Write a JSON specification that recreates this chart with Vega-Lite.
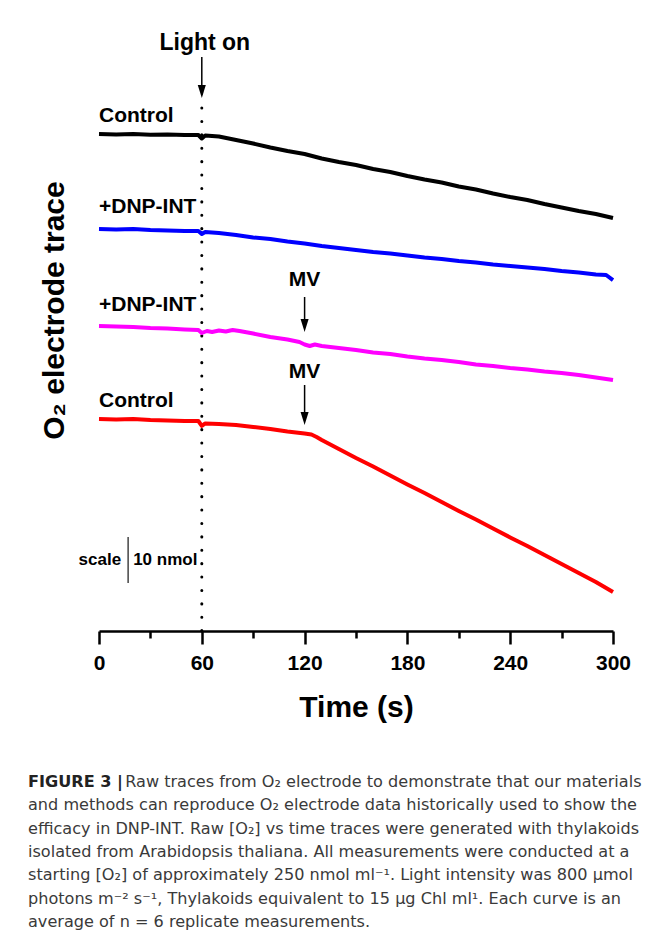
{
  "$schema": "https://vega.github.io/schema/vega-lite/v6.json",
  "width": 514,
  "height": 598,
  "autosize": {"type": "none"},
  "padding": {"left": 99, "top": 33, "right": 55, "bottom": 320},
  "background": "white",
  "config": {"view": {"stroke": null}, "font": "Liberation Sans"},
  "title": {
    "text": "FIGURE 3 |",
    "subtitle": [
      "\u200b\u00a0\u00a0\u00a0\u00a0\u00a0\u00a0\u00a0\u00a0\u00a0\u00a0\u00a0\u00a0\u00a0\u00a0\u00a0\u00a0\u00a0\u00a0\u00a0Raw traces from O\u2082 electrode to demonstrate that our materials",
      "and methods can reproduce O\u2082 electrode data historically used to show the",
      "efficacy in DNP-INT. Raw [O\u2082] vs time traces were generated with thylakoids",
      "isolated from Arabidopsis thaliana. All measurements were conducted at a",
      "starting [O\u2082] of approximately 250 nmol ml\u207b\u00b9. Light intensity was 800 \u00b5mol",
      "photons m\u207b\u00b2 s\u207b\u00b9, Thylakoids equivalent to 15 \u00b5g Chl ml\u00b9. Each curve is an",
      "average of n = 6 replicate measurements."
    ],
    "orient": "bottom",
    "anchor": "start",
    "frame": "group",
    "dx": -71,
    "offset": 52,
    "font": "DejaVu Sans",
    "fontSize": 16.1,
    "fontWeight": "bold",
    "color": "#222222",
    "subtitleFont": "DejaVu Sans",
    "subtitleFontSize": 16.1,
    "subtitleFontWeight": "normal",
    "subtitleColor": "#3a3a3a",
    "subtitleLineHeight": 23.3,
    "subtitlePadding": -16.1
  },
  "datasets": {
    "traces": [
      {"series": "Control", "t": 0, "o2": 108.04}, {"series": "Control", "t": 10, "o2": 107.93}, {"series": "Control", "t": 20, "o2": 108.04}, {"series": "Control", "t": 30, "o2": 107.87}, {"series": "Control", "t": 40, "o2": 107.93}, {"series": "Control", "t": 50, "o2": 107.83}, {"series": "Control", "t": 58, "o2": 107.83}, {"series": "Control", "t": 60, "o2": 107.07}, {"series": "Control", "t": 62, "o2": 107.72}, {"series": "Control", "t": 70, "o2": 107.5}, {"series": "Control", "t": 80, "o2": 106.74}, {"series": "Control", "t": 90, "o2": 105.98}, {"series": "Control", "t": 100, "o2": 105.11}, {"series": "Control", "t": 110, "o2": 104.35}, {"series": "Control", "t": 120, "o2": 103.7}, {"series": "Control", "t": 130, "o2": 102.72}, {"series": "Control", "t": 140, "o2": 101.96}, {"series": "Control", "t": 150, "o2": 101.3}, {"series": "Control", "t": 160, "o2": 100.43}, {"series": "Control", "t": 170, "o2": 99.78}, {"series": "Control", "t": 180, "o2": 98.91}, {"series": "Control", "t": 190, "o2": 98.15}, {"series": "Control", "t": 200, "o2": 97.5}, {"series": "Control", "t": 210, "o2": 96.63}, {"series": "Control", "t": 220, "o2": 95.98}, {"series": "Control", "t": 230, "o2": 95.11}, {"series": "Control", "t": 240, "o2": 94.35}, {"series": "Control", "t": 250, "o2": 93.7}, {"series": "Control", "t": 260, "o2": 92.83}, {"series": "Control", "t": 270, "o2": 92.07}, {"series": "Control", "t": 280, "o2": 91.3}, {"series": "Control", "t": 290, "o2": 90.65}, {"series": "Control", "t": 300, "o2": 89.78},
      {"series": "+DNP-INT", "t": 0, "o2": 87.39}, {"series": "+DNP-INT", "t": 10, "o2": 87.28}, {"series": "+DNP-INT", "t": 20, "o2": 87.39}, {"series": "+DNP-INT", "t": 30, "o2": 87.17}, {"series": "+DNP-INT", "t": 40, "o2": 87.07}, {"series": "+DNP-INT", "t": 50, "o2": 86.96}, {"series": "+DNP-INT", "t": 58, "o2": 86.96}, {"series": "+DNP-INT", "t": 60, "o2": 86.3}, {"series": "+DNP-INT", "t": 62, "o2": 86.74}, {"series": "+DNP-INT", "t": 70, "o2": 86.52}, {"series": "+DNP-INT", "t": 80, "o2": 86.09}, {"series": "+DNP-INT", "t": 90, "o2": 85.54}, {"series": "+DNP-INT", "t": 100, "o2": 85.22}, {"series": "+DNP-INT", "t": 110, "o2": 84.67}, {"series": "+DNP-INT", "t": 120, "o2": 84.24}, {"series": "+DNP-INT", "t": 130, "o2": 83.7}, {"series": "+DNP-INT", "t": 140, "o2": 83.26}, {"series": "+DNP-INT", "t": 150, "o2": 82.83}, {"series": "+DNP-INT", "t": 160, "o2": 82.39}, {"series": "+DNP-INT", "t": 170, "o2": 82.07}, {"series": "+DNP-INT", "t": 180, "o2": 81.63}, {"series": "+DNP-INT", "t": 190, "o2": 81.2}, {"series": "+DNP-INT", "t": 200, "o2": 80.87}, {"series": "+DNP-INT", "t": 210, "o2": 80.43}, {"series": "+DNP-INT", "t": 220, "o2": 80.11}, {"series": "+DNP-INT", "t": 230, "o2": 79.67}, {"series": "+DNP-INT", "t": 240, "o2": 79.35}, {"series": "+DNP-INT", "t": 250, "o2": 79.02}, {"series": "+DNP-INT", "t": 260, "o2": 78.7}, {"series": "+DNP-INT", "t": 270, "o2": 78.26}, {"series": "+DNP-INT", "t": 280, "o2": 77.93}, {"series": "+DNP-INT", "t": 290, "o2": 77.5}, {"series": "+DNP-INT", "t": 296, "o2": 77.39}, {"series": "+DNP-INT", "t": 300, "o2": 76.3},
      {"series": "+DNP-INT +MV", "t": 0, "o2": 66.3}, {"series": "+DNP-INT +MV", "t": 10, "o2": 66.2}, {"series": "+DNP-INT +MV", "t": 20, "o2": 66.09}, {"series": "+DNP-INT +MV", "t": 30, "o2": 65.87}, {"series": "+DNP-INT +MV", "t": 40, "o2": 65.76}, {"series": "+DNP-INT +MV", "t": 50, "o2": 65.54}, {"series": "+DNP-INT +MV", "t": 58, "o2": 65.43}, {"series": "+DNP-INT +MV", "t": 60, "o2": 64.78}, {"series": "+DNP-INT +MV", "t": 63, "o2": 65.22}, {"series": "+DNP-INT +MV", "t": 66, "o2": 65.0}, {"series": "+DNP-INT +MV", "t": 70, "o2": 65.33}, {"series": "+DNP-INT +MV", "t": 74, "o2": 65.11}, {"series": "+DNP-INT +MV", "t": 78, "o2": 65.43}, {"series": "+DNP-INT +MV", "t": 82, "o2": 65.22}, {"series": "+DNP-INT +MV", "t": 90, "o2": 64.67}, {"series": "+DNP-INT +MV", "t": 100, "o2": 63.91}, {"series": "+DNP-INT +MV", "t": 110, "o2": 63.37}, {"series": "+DNP-INT +MV", "t": 117, "o2": 62.83}, {"series": "+DNP-INT +MV", "t": 120, "o2": 62.28}, {"series": "+DNP-INT +MV", "t": 123, "o2": 61.96}, {"series": "+DNP-INT +MV", "t": 126, "o2": 62.28}, {"series": "+DNP-INT +MV", "t": 130, "o2": 61.96}, {"series": "+DNP-INT +MV", "t": 140, "o2": 61.52}, {"series": "+DNP-INT +MV", "t": 150, "o2": 61.09}, {"series": "+DNP-INT +MV", "t": 160, "o2": 60.54}, {"series": "+DNP-INT +MV", "t": 170, "o2": 60.22}, {"series": "+DNP-INT +MV", "t": 180, "o2": 59.67}, {"series": "+DNP-INT +MV", "t": 190, "o2": 59.24}, {"series": "+DNP-INT +MV", "t": 200, "o2": 58.91}, {"series": "+DNP-INT +MV", "t": 210, "o2": 58.48}, {"series": "+DNP-INT +MV", "t": 220, "o2": 57.93}, {"series": "+DNP-INT +MV", "t": 230, "o2": 57.61}, {"series": "+DNP-INT +MV", "t": 240, "o2": 57.17}, {"series": "+DNP-INT +MV", "t": 250, "o2": 56.85}, {"series": "+DNP-INT +MV", "t": 260, "o2": 56.41}, {"series": "+DNP-INT +MV", "t": 270, "o2": 56.09}, {"series": "+DNP-INT +MV", "t": 280, "o2": 55.65}, {"series": "+DNP-INT +MV", "t": 290, "o2": 55.11}, {"series": "+DNP-INT +MV", "t": 300, "o2": 54.57},
      {"series": "Control +MV", "t": 0, "o2": 46.09}, {"series": "Control +MV", "t": 10, "o2": 45.98}, {"series": "Control +MV", "t": 20, "o2": 46.09}, {"series": "Control +MV", "t": 30, "o2": 45.87}, {"series": "Control +MV", "t": 40, "o2": 45.76}, {"series": "Control +MV", "t": 50, "o2": 45.65}, {"series": "Control +MV", "t": 58, "o2": 45.65}, {"series": "Control +MV", "t": 60, "o2": 44.57}, {"series": "Control +MV", "t": 62, "o2": 45.11}, {"series": "Control +MV", "t": 70, "o2": 45.0}, {"series": "Control +MV", "t": 80, "o2": 44.78}, {"series": "Control +MV", "t": 90, "o2": 44.35}, {"series": "Control +MV", "t": 100, "o2": 43.91}, {"series": "Control +MV", "t": 110, "o2": 43.37}, {"series": "Control +MV", "t": 115, "o2": 43.15}, {"series": "Control +MV", "t": 120, "o2": 42.93}, {"series": "Control +MV", "t": 124, "o2": 42.72}, {"series": "Control +MV", "t": 127, "o2": 42.17}, {"series": "Control +MV", "t": 130, "o2": 41.52}, {"series": "Control +MV", "t": 140, "o2": 39.57}, {"series": "Control +MV", "t": 150, "o2": 37.61}, {"series": "Control +MV", "t": 160, "o2": 35.76}, {"series": "Control +MV", "t": 170, "o2": 33.8}, {"series": "Control +MV", "t": 180, "o2": 31.85}, {"series": "Control +MV", "t": 190, "o2": 30.0}, {"series": "Control +MV", "t": 200, "o2": 28.04}, {"series": "Control +MV", "t": 210, "o2": 26.09}, {"series": "Control +MV", "t": 220, "o2": 24.24}, {"series": "Control +MV", "t": 230, "o2": 22.28}, {"series": "Control +MV", "t": 240, "o2": 20.33}, {"series": "Control +MV", "t": 250, "o2": 18.48}, {"series": "Control +MV", "t": 260, "o2": 16.52}, {"series": "Control +MV", "t": 270, "o2": 14.57}, {"series": "Control +MV", "t": 280, "o2": 12.61}, {"series": "Control +MV", "t": 290, "o2": 10.65}, {"series": "Control +MV", "t": 300, "o2": 8.48}
    ],
    "seriesLabels": [
      {"t": 0, "o2": 110.76, "label": "Control"},
      {"t": 0, "o2": 90.87, "label": "+DNP-INT"},
      {"t": 0, "o2": 69.46, "label": "+DNP-INT"},
      {"t": 0, "o2": 48.76, "label": "Control"}
    ],
    "lightLabel": [{"t": 60, "o2": 126.3, "label": "Light on"}],
    "mvLabels": [
      {"t": 120, "o2": 75.0, "label": "MV"},
      {"t": 120, "o2": 54.93, "label": "MV"}
    ],
    "arrows": [
      {"t": 60, "o2": 124.78, "o2end": 116.5},
      {"t": 120, "o2": 72.61, "o2end": 66.0},
      {"t": 120, "o2": 53.48, "o2end": 45.8}
    ],
    "arrowTips": [
      {"t": 60, "o2": 115.87},
      {"t": 120, "o2": 65.0},
      {"t": 120, "o2": 44.78}
    ],
    "lightOnLine": [{"t": 60, "o2": 113.7, "o2end": 0}],
    "scaleBar": [{"t": 17, "o2": 20.43, "o2end": 10.43}],
    "scaleText": [
      {"t": 17, "o2": 14.3, "label": "scale"},
      {"t": 17, "o2": 14.3, "label": "10 nmol"}
    ]
  },
  "encoding": {
    "x": {
      "field": "t",
      "type": "quantitative",
      "scale": {"domain": [0, 300], "nice": false, "zero": false},
      "axis": {
        "values": [0, 30, 60, 90, 120, 150, 180, 210, 240, 270, 300],
        "labelExpr": "datum.value % 60 === 0 ? datum.label : ''",
        "tickSize": {"condition": {"test": "datum.value % 60 === 0", "value": 13}, "value": 7},
        "tickWidth": 2.5,
        "tickColor": "#000000",
        "domainWidth": 2.5,
        "domainColor": "#000000",
        "grid": false,
        "labelFont": "Liberation Sans",
        "labelFontSize": 21,
        "labelFontWeight": "bold",
        "labelColor": "#000000",
        "labelPadding": 8,
        "labelFlush": false,
        "labelOverlap": false,
        "title": "Time (s)",
        "titleFont": "Liberation Sans",
        "titleFontSize": 30,
        "titleFontWeight": "bold",
        "titleColor": "#000000",
        "titlePadding": 19
      }
    },
    "y": {
      "field": "o2",
      "type": "quantitative",
      "scale": {"domain": [0, 130], "nice": false, "zero": false},
      "axis": {
        "domain": false,
        "ticks": false,
        "labels": false,
        "grid": false,
        "title": "O\u2082 electrode trace",
        "titleFont": "Liberation Sans",
        "titleFontSize": 30,
        "titleFontWeight": "bold",
        "titleColor": "#000000",
        "titleAngle": 270,
        "titleAlign": "center",
        "titleBaseline": "alphabetic",
        "titleX": -36,
        "titleY": 277
      }
    }
  },
  "layer": [
    {
      "data": {"name": "lightOnLine"},
      "mark": {"type": "rule", "color": "#000000", "strokeWidth": 3, "strokeCap": "round", "strokeDash": [0.1, 13.3]},
      "encoding": {"y2": {"field": "o2end"}}
    },
    {
      "data": {"name": "traces"},
      "mark": {"type": "line", "strokeJoin": "round"},
      "encoding": {
        "color": {
          "field": "series",
          "type": "nominal",
          "scale": {"domain": ["Control", "+DNP-INT", "+DNP-INT +MV", "Control +MV"], "range": ["#000000", "#0000ff", "#ff00ff", "#ff0000"]},
          "legend": null
        },
        "strokeWidth": {
          "field": "series",
          "type": "nominal",
          "scale": {"domain": ["Control", "+DNP-INT", "+DNP-INT +MV", "Control +MV"], "range": [4, 4, 4, 3]},
          "legend": null
        }
      }
    },
    {
      "data": {"name": "arrows"},
      "mark": {"type": "rule", "color": "#000000", "strokeWidth": 1.5},
      "encoding": {"y2": {"field": "o2end"}}
    },
    {
      "data": {"name": "arrowTips"},
      "mark": {"type": "point", "shape": "M -0.62 -2 L 0.62 -2 L 0 0 Z", "size": 169, "filled": true, "color": "#000000", "opacity": 1, "strokeWidth": 0}
    },
    {
      "data": {"name": "seriesLabels"},
      "mark": {"type": "text", "align": "left", "baseline": "alphabetic", "font": "Liberation Sans", "fontSize": 21, "fontWeight": "bold", "color": "#000000"},
      "encoding": {"text": {"field": "label"}}
    },
    {
      "data": {"name": "lightLabel"},
      "mark": {"type": "text", "align": "center", "baseline": "alphabetic", "font": "Liberation Sans", "fontSize": 23, "fontWeight": "bold", "color": "#000000", "dx": 3},
      "encoding": {"text": {"field": "label"}}
    },
    {
      "data": {"name": "mvLabels"},
      "mark": {"type": "text", "align": "center", "baseline": "alphabetic", "font": "Liberation Sans", "fontSize": 21, "fontWeight": "bold", "color": "#000000"},
      "encoding": {"text": {"field": "label"}}
    },
    {
      "data": {"name": "scaleBar"},
      "mark": {"type": "rule", "color": "#444444", "strokeWidth": 1.5},
      "encoding": {"y2": {"field": "o2end"}}
    },
    {
      "data": {"name": "scaleText"},
      "transform": [{"filter": "datum.label === 'scale'"}],
      "mark": {"type": "text", "align": "right", "baseline": "alphabetic", "font": "Liberation Sans", "fontSize": 17, "fontWeight": "bold", "color": "#000000", "dx": -7},
      "encoding": {"text": {"field": "label"}}
    },
    {
      "data": {"name": "scaleText"},
      "transform": [{"filter": "datum.label !== 'scale'"}],
      "mark": {"type": "text", "align": "left", "baseline": "alphabetic", "font": "Liberation Sans", "fontSize": 17, "fontWeight": "bold", "color": "#000000", "dx": 5},
      "encoding": {"text": {"field": "label"}}
    }
  ]
}
